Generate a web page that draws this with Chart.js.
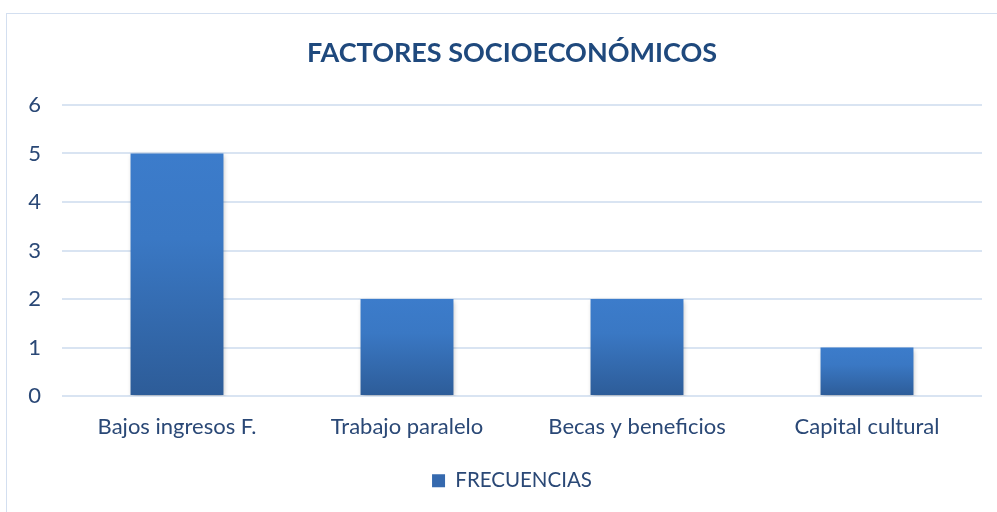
<!DOCTYPE html>
<html>
<head>
<meta charset="utf-8">
<script src="https://cdn.jsdelivr.net/npm/chart.js@4.4.0/dist/chart.umd.min.js"></script>
<style>
  html, body { margin: 0; padding: 0; background: #ffffff; }
  body { width: 997px; height: 512px; position: relative; overflow: hidden; }
  #frame { position: absolute; left: 6px; top: 13px; width: 1100px; height: 600px; border: 1.5px solid #d3dff0; box-sizing: border-box; }
  #wrap { position: absolute; left: 0; top: 0; width: 997px; height: 512px; }
</style>
</head>
<body>
<div id="frame"></div>
<div id="wrap"><canvas id="c" width="997" height="512"></canvas></div>
<script>
const categories = ["Bajos ingresos F.", "Trabajo paralelo", "Becas y beneficios", "Capital cultural"];
const frecuencias = [5, 2, 2, 1];
const seriesName = "FRECUENCIAS";
const chartTitle = "FACTORES SOCIOECONÓMICOS";
const yTicks = [0, 1, 2, 3, 4, 5, 6];

const FONT = "Lato, 'Open Sans', sans-serif";
const TEXT = "#2a4876";

function barGradient(ctx) {
  const chart = ctx.chart;
  if (!chart.chartArea || !chart.scales.y || ctx.raw === undefined) return "#3a72bb";
  const y = chart.scales.y;
  const top = y.getPixelForValue(ctx.raw);
  const bottom = y.getPixelForValue(0);
  if (!isFinite(top) || !isFinite(bottom) || top === bottom) return "#3a72bb";
  const g = chart.ctx.createLinearGradient(0, top, 0, bottom);
  g.addColorStop(0, "#3c7ccb");
  g.addColorStop(0.35, "#3a78c4");
  g.addColorStop(1, "#2d5c98");
  return g;
}

const shadowPlugin = {
  id: "barShadow",
  beforeDatasetsDraw(chart) {
    const c = chart.ctx;
    c.save();
    c.shadowColor = "rgba(0,0,0,0.28)";
    c.shadowBlur = 5;
    c.shadowOffsetX = 1;
    c.shadowOffsetY = 2;
  },
  afterDatasetsDraw(chart) {
    chart.ctx.restore();
  }
};

new Chart(document.getElementById("c"), {
  type: "bar",
  data: {
    labels: categories,
    datasets: [{
      label: seriesName,
      data: frecuencias,
      backgroundColor: barGradient,
      borderWidth: 0,
      categoryPercentage: 0.8,
      barPercentage: 0.505
    }]
  },
  plugins: [shadowPlugin],
  options: {
    responsive: false,
    animation: false,
    layout: { padding: { left: 27, right: 0, top: 0, bottom: 11 } },
    plugins: {
      title: {
        display: true,
        text: chartTitle,
        color: "#1f497d",
        font: { family: FONT, size: 27, weight: "bold" },
        padding: { top: 37.5, bottom: 35 }
      },
      legend: {
        display: true,
        position: "bottom",
        labels: {
          color: TEXT,
          font: { family: FONT, size: 20.5 },
          boxWidth: 13,
          boxHeight: 13,
          padding: 12,
          generateLabels(chart) {
            const items = Chart.defaults.plugins.legend.labels.generateLabels(chart);
            items.forEach(it => { it.fillStyle = "#3569ae"; it.strokeStyle = "#3569ae"; it.lineWidth = 0; });
            return items;
          }
        }
      },
      tooltip: { enabled: false }
    },
    scales: {
      x: {
        grid: { display: false, drawTicks: false },
        border: { display: false },
        ticks: { color: TEXT, font: { family: FONT, size: 22 }, padding: 18, maxRotation: 0 }
      },
      y: {
        min: 0,
        max: 6,
        afterFit(scale) { scale.width = 35; },
        afterBuildTicks(scale) { scale.ticks = yTicks.map(v => ({ value: v })); },
        grid: { color: "#d9e4f2", lineWidth: 2, drawTicks: false },
        border: { display: false },
        ticks: { color: TEXT, font: { family: FONT, size: 22 }, padding: 21 }
      },
      y2: {
        type: "linear",
        position: "right",
        display: true,
        afterFit(scale) { scale.width = 15; },
        grid: { display: false, drawTicks: false },
        border: { display: false },
        ticks: { display: false }
      }
    }
  }
});
</script>
</body>
</html>
